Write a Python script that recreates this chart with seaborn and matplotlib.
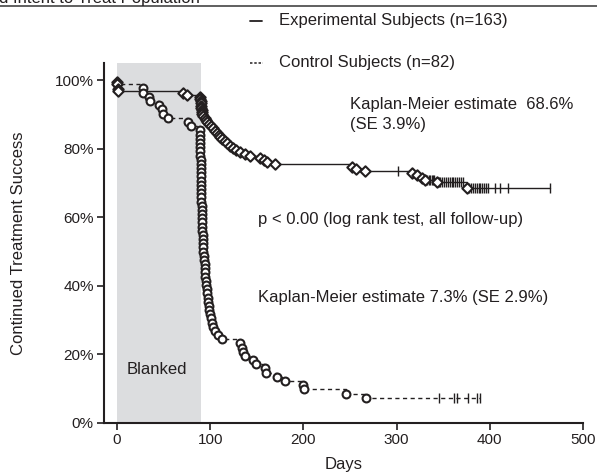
import numpy as np
import pandas as pd
import matplotlib
matplotlib.use("Agg")
import matplotlib.pyplot as plt
from matplotlib.lines import Line2D
from matplotlib.ticker import PercentFormatter
import seaborn as sns

# Experimental arm (n=163): event day -> survival % after the event
exp_days = [0, 0.5, 1, 1.5, 70.5, 75.5,
            89, 89.3, 89.6, 89.9, 90.2, 90.5, 90.8, 91.1, 91.5, 92,
            94, 95.5, 97, 99, 101, 103, 105, 107, 109, 111, 113, 116, 118,
            121, 124, 128, 132, 137, 143, 153, 158, 161, 169,
            252, 256.5, 266, 316, 321.5, 327, 330.5, 343, 375]
exp_pct = [99.4, 98.8, 97.5, 96.9, 96.3, 95.7,
           95.1, 94.5, 93.9, 93.3, 92.6, 92.0, 91.4, 90.8, 90.2, 89.6,
           89.0, 88.4, 87.8, 87.1, 86.5, 85.9, 85.3, 84.7, 84.0, 83.4, 82.8, 82.2, 81.6,
           80.9, 80.3, 79.7, 79.1, 78.5, 77.8, 77.2, 76.6, 76.0, 75.4,
           74.8, 74.2, 73.5, 72.8, 72.2, 71.6, 71.0, 70.3, 68.6]
exp_censor = [302, 333, 334.5, 336, 337.5, 339, 340.5,
              345, 347, 349, 351, 353, 355, 357, 359, 361, 363, 365, 367, 369, 371,
              378, 380, 382, 384, 386, 388, 390, 392, 394, 396, 398,
              405.5, 411, 419, 464.5]

# Control arm (n=82)
ctl_days = [0, 27.5, 28.2, 34.7, 35.4, 45.4, 48, 49.7, 55, 76.5, 79,
            89.0, 89.0, 89.1, 89.2, 89.3, 89.4, 89.5, 89.6, 89.7, 89.8, 89.9, 90.0, 90.1,
            90.2, 90.3, 90.4, 90.5, 90.6, 90.7, 90.8, 90.9, 91.0, 91.1, 91.2, 91.3,
            91.8, 92.0, 92.2, 92.4, 92.6, 92.8, 93.0,
            94.0, 94.3, 94.6, 94.9, 95.3, 95.7, 96.2,
            96.7, 97.2, 97.8, 98.4, 99.0, 99.7, 100.5, 101.5, 103.3, 105.5, 108.5, 112.3,
            132, 133.8, 135.5, 137.3, 145.6, 149, 158.8, 160, 171.4, 180.3, 200, 200.5, 245.7, 267]
ctl_pct = [98.8, 97.6, 96.3, 95.1, 93.9, 92.7, 91.5, 90.2, 89.0, 87.8, 86.6,
           85.4, 84.1, 82.9, 81.7, 80.5, 79.3, 78.0, 76.8, 75.6, 74.4, 73.2, 72.0, 70.7,
           69.5, 68.3, 67.1, 65.9, 64.6, 63.4, 62.2, 61.0, 59.8, 58.5, 57.3, 56.1,
           54.9, 53.7, 52.4, 51.2, 50.0, 48.8, 47.6,
           46.3, 45.1, 43.9, 42.7, 41.5, 40.2, 39.0,
           37.8, 36.6, 35.4, 34.1, 32.9, 31.7, 30.5, 29.3, 28.0, 26.8, 25.6, 24.4,
           23.2, 22.0, 20.7, 19.5, 18.3, 17.1, 15.9, 14.6, 13.4, 12.2, 11.0, 9.8, 8.5, 7.3]
ctl_censor = [346, 361.6, 364.4, 377, 386, 389.5]

x_ticks = [0, 100, 200, 300, 400, 500]
y_ticks = [0, 20, 40, 60, 80, 100]

sns.set_style("ticks")
plt.rcParams["font.family"] = ["Liberation Sans", "DejaVu Sans"]
INK = "#231f20"


def km_steps(days, pct, end):
    return pd.DataFrame({"day": [0] + list(days) + [end],
                         "pct": [100] + list(pct) + [pct[-1]]})


def level_at(days, pct, t):
    i = np.searchsorted(days, t, side="right") - 1
    return [pct[j] for j in i]


fig = plt.figure(figsize=(5.97, 4.74), dpi=100)
ax = fig.add_axes([103.5 / 597, 1 - 423 / 474, (583 - 103.5) / 597, (423 - 63) / 474])

ax.axvspan(0, 90, color="#dcdddf", lw=0, zorder=0)

exp_df = km_steps(exp_days, exp_pct, exp_censor[-1])
ctl_df = km_steps(ctl_days, ctl_pct, ctl_censor[-1])
sns.lineplot(data=exp_df, x="day", y="pct", estimator=None, sort=False,
             drawstyle="steps-post", color=INK, linewidth=1.0, ax=ax)
sns.lineplot(data=ctl_df, x="day", y="pct", estimator=None, sort=False,
             drawstyle="steps-post", color=INK, linewidth=1.0,
             linestyle=(0, (3, 2.5)), ax=ax)

# censor ticks
ax.plot(exp_censor, level_at(np.array(exp_days), exp_pct, np.array(exp_censor)),
        ls="none", marker="|", ms=6.5, mew=1.0, color=INK)
ax.plot(ctl_censor, level_at(np.array(ctl_days), ctl_pct, np.array(ctl_censor)),
        ls="none", marker="|", ms=6.5, mew=1.0, color=INK)

# event markers
sns.scatterplot(x=ctl_days, y=ctl_pct, marker="o", s=32, facecolor="white",
                edgecolor=INK, linewidth=1.5, zorder=4, ax=ax)
sns.scatterplot(x=exp_days, y=exp_pct, marker="D", s=28, facecolor="white",
                edgecolor=INK, linewidth=1.5, zorder=5, ax=ax)

ax.set_xlim(-14.5, 500)
ax.set_ylim(0, 105)
ax.set_xticks(x_ticks)
ax.set_yticks(y_ticks)
ax.yaxis.set_major_formatter(PercentFormatter(decimals=0))
sns.despine(ax=ax)
for s in ["left", "bottom"]:
    ax.spines[s].set_linewidth(1.5)
    ax.spines[s].set_color(INK)
ax.tick_params(direction="out", length=5, width=1.2, color=INK,
               labelsize=11, labelcolor=INK, pad=2)

ax.set_xlabel("Days", fontsize=12, color=INK)
ax.set_ylabel("Continued Treatment Success", fontsize=12, color=INK)
ax.xaxis.set_label_coords(0.5, -0.094)
ax.yaxis.set_label_coords(-0.162, 0.5)

tk = dict(fontsize=12, color=INK, va="center")
ax.text(250, 93.0, "Kaplan-Meier estimate  68.6%", **tk)
ax.text(250, 87.1, "(SE 3.9%)", **tk)
ax.text(151.3, 59.4, "p < 0.00 (log rank test, all follow-up)", **tk)
ax.text(151.3, 36.5, "Kaplan-Meier estimate 7.3% (SE 2.9%)", **tk)
ax.text(43, 15.5, "Blanked", ha="center", **tk)

# legend drawn by hand in figure pixels
def fx(px):
    return px / 597


def fy(py):
    return 1 - py / 474


fig.add_artist(Line2D([fx(250), fx(262)], [fy(21), fy(21)], color=INK, lw=1.3))
fig.add_artist(Line2D([fx(250), fx(263)], [fy(63), fy(63)], color=INK, lw=1.1,
                      linestyle=(0, (1.6, 1.2))))
fig.text(fx(279), fy(21), "Experimental Subjects (n=163)", fontsize=12, color=INK, va="center")
fig.text(fx(279), fy(63), "Control Subjects (n=82)", fontsize=12, color=INK, va="center")

# cut-off page header and rule
fig.text(fx(200), fy(3), "Modified Intent to Treat Population", fontsize=12,
         color=INK, ha="right", va="baseline")
fig.add_artist(Line2D([0, 1], [fy(6), fy(6)], color="#444444", lw=1.2))

fig.savefig("out.png", dpi=100)
